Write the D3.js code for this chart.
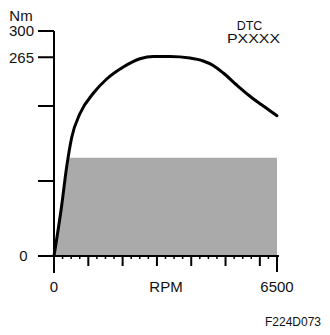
<!DOCTYPE html>
<html><head><meta charset="utf-8">
<script src="https://cdn.jsdelivr.net/npm/d3@7"></script>
<style>body{margin:0;background:#fff}svg{display:block}text{font-family:Arial,"Liberation Sans",sans-serif;fill:#111}</style>
</head><body>
<script>
// Data
const curveRpm = [0, 220, 370, 516, 758, 1145, 1536, 2020, 2506, 2900, 3380, 3960, 4350, 4640, 4935, 5325, 5713, 6100, 6500];
const curveTorque = [0, 66, 119, 158, 190, 217, 236, 252, 263, 266, 266, 264, 260, 254, 244, 228, 213, 200, 187];
const areaRpm = [0, 450, 6500, 6500];
const areaTorque = [0, 131, 131, 0];
const yTicks = [0, 100, 200, 265, 300];
const yTickLabels = ["0", "", "", "265", "300"];
const xMajorTicks = [1000, 2000, 3000, 4000, 5000, 6000];
const xEndTicks = [0, 6500];
const xMinorStep = 250;
const xMax = 6500, yMax = 300;

const W = 330, H = 335;
const svg = d3.select("body").append("svg").attr("width", W).attr("height", H);
const x = d3.scaleLinear().domain([0, xMax]).range([54, 277]);
const y = d3.scaleLinear().domain([0, yMax]).range([256, 31]);

// gray area
const areaData = areaRpm.map((r, i) => [r, areaTorque[i]]);
svg.append("path")
  .attr("d", d3.line().x(d => x(d[0])).y(d => y(d[1]))(areaData) + "Z")
  .attr("fill", "#aaaaaa");

// axes
const ax = svg.append("g").attr("stroke", "#000").attr("stroke-width", 2).attr("fill", "none");
ax.append("line").attr("x1", x(0)).attr("x2", x(0)).attr("y1", y(yMax)).attr("y2", y(0) + 17);
ax.append("line").attr("x1", x(0) - 16).attr("x2", x(xMax) + 2).attr("y1", y(0)).attr("y2", y(0));
yTicks.forEach(t => ax.append("line").attr("x1", x(0) - 16).attr("x2", x(0)).attr("y1", y(t)).attr("y2", y(t)));
xMajorTicks.forEach(t => ax.append("line").attr("x1", x(t)).attr("x2", x(t)).attr("y1", y(0)).attr("y2", y(0) + 10));
ax.append("line").attr("x1", x(6500)).attr("x2", x(6500)).attr("y1", y(0)).attr("y2", y(0) + 16);
d3.range(xMinorStep, xMax, xMinorStep).filter(v => v % 1000 !== 0).forEach(t =>
  ax.append("line").attr("x1", x(t)).attr("x2", x(t)).attr("y1", y(0)).attr("y2", y(0) + 3).attr("stroke-width", 1.5));

// torque curve
const pts = curveRpm.map((r, i) => [r, curveTorque[i]]);
svg.append("path")
  .attr("d", d3.line().x(d => x(d[0])).y(d => y(d[1])).curve(d3.curveMonotoneX)(pts))
  .attr("fill", "none").attr("stroke", "#000").attr("stroke-width", 3).attr("stroke-linecap", "round");

// labels
const fs = 15;
yTicks.forEach((t, i) => {
  if (!yTickLabels[i]) return;
  svg.append("text").attr("x", t === 0 ? 23.5 : 21.5).attr("y", y(t)).attr("dy", "0.36em")
    .attr("text-anchor", "middle").attr("font-size", fs).text(yTickLabels[i]);
});
svg.append("text").attr("x", 21).attr("y", 21).attr("text-anchor", "middle").attr("font-size", fs).text("Nm");
xEndTicks.forEach(t => svg.append("text").attr("x", x(t)).attr("y", 292).attr("text-anchor", "middle").attr("font-size", fs).text(String(t)));
svg.append("text").attr("x", 166).attr("y", 292).attr("text-anchor", "middle").attr("font-size", fs).text("RPM");
svg.append("text").attr("x", 249.5).attr("y", 29.5).attr("text-anchor", "middle").attr("font-size", 12.5).text("DTC");
svg.append("text").attr("x", 227).attr("y", 43).attr("font-size", 12).attr("textLength", 53).attr("lengthAdjust", "spacingAndGlyphs").text("PXXXX");
svg.append("text").attr("x", 321).attr("y", 326).attr("text-anchor", "end").attr("font-size", 12).text("F224D073");
</script>
</body></html>
